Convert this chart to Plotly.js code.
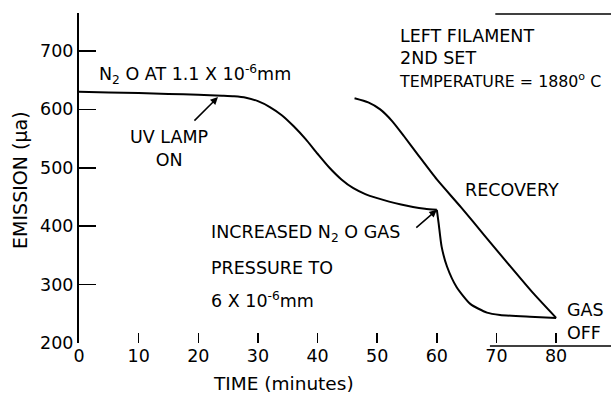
<!DOCTYPE html>
<html>
<head>
<meta charset="utf-8">
<script src="https://cdn.plot.ly/plotly-3.0.1.min.js"></script>
<style>html,body{margin:0;padding:0;background:#fff;}#chart{width:611px;height:397px;}</style>
</head>
<body>
<div id="chart"></div>
<script>
// Emission with UV lamp on (minutes, microamps)
const decayTime = [0, 5, 10, 15, 20, 24, 26, 28, 30, 32, 34, 36, 38, 40, 42, 44, 46, 48, 50, 52, 54, 56, 58, 60];
const decayEmission = [630, 629, 628, 626.5, 625, 623.5, 622.5, 620, 614, 604, 590, 571, 549, 524, 500, 480, 465, 455, 448, 442, 437, 433, 430, 428];
// After increased N2O gas pressure
const dropTime = [60, 60.3, 60.8, 61.7, 63.3, 65.6, 68.4, 70.6, 75.6, 80];
const dropEmission = [428, 405, 365, 331, 296, 267, 252, 248, 245, 243];
// Recovery after gas off (plotted from 80 back to 46 min)
const recoveryTime = [80, 76, 72, 68, 64, 60, 57, 54.5, 52.5, 50.5, 48.5, 46.2];
const recoveryEmission = [243, 287, 335, 384, 433, 480, 520, 554, 580, 600, 612, 619];
// Axis ticks
const xTicks = [0, 10, 20, 30, 40, 50, 60, 70, 80];
const yTicks = [300, 400, 500, 600, 700];

const FONT = 'DejaVu Sans';
const FS = 17.5;
const line = {color: '#000', width: 2, shape: 'spline', smoothing: 0.6};
const traces = [
  {x: decayTime, y: decayEmission, mode: 'lines', line: line, hoverinfo: 'skip'},
  {x: dropTime, y: dropEmission, mode: 'lines', line: line, hoverinfo: 'skip'},
  {x: recoveryTime, y: recoveryEmission, mode: 'lines', line: line, hoverinfo: 'skip'}
];

const txt = (text, x, y, extra, size) => Object.assign({
  text: text, x: x, y: y, xref: 'x', yref: 'y', showarrow: false,
  xanchor: 'left', yanchor: 'middle', font: {family: FONT, size: size || FS, color: '#000'}
}, extra || {});

const annotations = [
  txt('N<sub>2</sub> O AT 1.1 X 10<sup>-6</sup>mm', 3.0, 659),
  txt('UV LAMP<br>ON', 15.1, 533, {xanchor: 'center', align: 'center'}),
  {x: 23.3, y: 621, ax: 18.6, ay: 573, xref: 'x', yref: 'y', axref: 'x', ayref: 'y',
   showarrow: true, arrowhead: 2, arrowsize: 1, arrowwidth: 1.5, arrowcolor: '#000', text: ' '},
  txt('LEFT FILAMENT', 53.5, 726),
  txt('2ND SET', 53.5, 688),
  txt('TEMPERATURE = 1880<sup>o</sup> C', 53.4, 650, {}, 15.8),
  txt('RECOVERY', 64.4, 462),
  txt('INCREASED N<sub>2</sub> O GAS', 21.8, 388),
  txt('PRESSURE TO', 21.8, 328),
  txt('6 X 10<sup>-6</sup>mm', 21.8, 274),
  {x: 60.0, y: 428, ax: 55.8, ay: 391, xref: 'x', yref: 'y', axref: 'x', ayref: 'y',
   showarrow: true, arrowhead: 2, arrowsize: 1, arrowwidth: 1.5, arrowcolor: '#000', text: ' '},
  txt('GAS<br>OFF', 81.5, 237, {align: 'left'}),
  {text: '200', x: 0, y: 200, xref: 'paper', yref: 'y', xanchor: 'right', yanchor: 'middle',
   xshift: -4, showarrow: false, font: {family: FONT, size: FS, color: '#000'}},
  {text: 'TIME (minutes)', x: 34.3, y: -0.124, xref: 'x', yref: 'paper', xanchor: 'center',
   yanchor: 'middle', showarrow: false, font: {family: FONT, size: 18.5, color: '#000'}},
  {text: 'EMISSION (μa)', x: -0.111, y: 0.494, xref: 'paper', yref: 'paper', xanchor: 'center',
   yanchor: 'middle', textangle: -90, showarrow: false, font: {family: FONT, size: 19, color: '#000'}}
];

const layout = {
  width: 611, height: 397,
  margin: {l: 79, r: 0, t: 13, b: 54},
  paper_bgcolor: '#fff', plot_bgcolor: '#fff',
  showlegend: false,
  font: {family: FONT, size: FS, color: '#000'},
  xaxis: {
    range: [0, 89.2], tickvals: xTicks, ticktext: xTicks.map(String),
    ticks: 'inside', ticklen: 10, tickwidth: 1.5, tickcolor: '#000',
    showline: false, showgrid: false, zeroline: false,
    tickfont: {family: FONT, size: FS, color: '#000'}
  },
  yaxis: {
    range: [200, 765], tickvals: yTicks, ticktext: yTicks.map(String),
    ticks: 'inside', ticklen: 17, tickwidth: 1.5, tickcolor: '#000',
    showline: true, linewidth: 2, linecolor: '#000',
    showgrid: false, zeroline: false,
    tickfont: {family: FONT, size: FS, color: '#000'}
  },
  shapes: [
    {type: 'line', xref: 'x', yref: 'paper', x0: 68.9, x1: 89.2, y0: -0.009, y1: -0.009,
     line: {color: '#000', width: 1.5}},
    {type: 'line', xref: 'x', yref: 'paper', x0: 69.8, x1: 89.2, y0: 0.997, y1: 0.997,
     line: {color: '#000', width: 1.5}}
  ],
  annotations: annotations
};

Plotly.newPlot('chart', traces, layout, {staticPlot: true, displayModeBar: false});
</script>
</body>
</html>
